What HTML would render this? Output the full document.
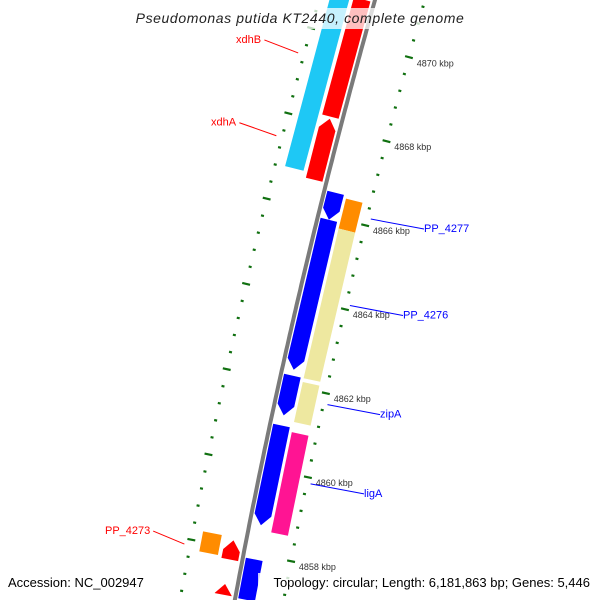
<!DOCTYPE html>
<html><head><meta charset="utf-8">
<style>
html,body{margin:0;padding:0;background:#fff;width:600px;height:600px;overflow:hidden;}
svg{display:block;font-family:"Liberation Sans",sans-serif;}
</style></head>
<body>
<svg id="map" width="600" height="600" viewBox="0 0 600 600" xmlns="http://www.w3.org/2000/svg">
<g id="features"></g>
<path id="backbone" fill="none" stroke="#7a7a7a" stroke-width="4"/>
<g id="ticks"></g>
<g id="labels"></g>
<rect x="120" y="8" width="360" height="21" fill="#fff" fill-opacity="0.75"/>
<text x="300" y="23" text-anchor="middle" font-size="14" font-style="italic" fill="#222" letter-spacing="0.6">Pseudomonas putida KT2440, complete genome</text>
<text x="8" y="587" font-size="13" fill="#000">Accession: NC_002947</text>
<rect x="258" y="573" width="334" height="18" fill="#fff" fill-opacity="0.8"/>
<text x="590" y="587" text-anchor="end" font-size="13" fill="#000">Topology: circular; Length: 6,181,863 bp; Genes: 5,446</text>
</svg>
<script>
// ---- data (kbp) ----
const featStart = [4870.99, 4870.99, 4868.17, 4870.99, 4866.56, 4865.92, 4862.23, 4861.05, 4857.88, 4866.49, 4865.78, 4862.14, 4860.95, 4858.29, 4858.22, 4857.19];
const featEnd   = [4870.79, 4868.22, 4866.73, 4866.87, 4865.92, 4862.37, 4861.29, 4858.69, 4856.92, 4865.78, 4862.23, 4861.19, 4858.57, 4857.82, 4857.77, 4856.94];
const featTrack = [-2, -1, -1, -2, 1, 1, 1, 1, 1, 2, 2, 2, 2, -2, -1, -1];
const featColor = ["#b8ac6e","#ff0000","#ff0000","#1ec8f5","#0000ff","#0000ff","#0000ff","#0000ff","#0000ff","#ff8c00","#eee8a0","#eee8a0","#ff1493","#ff8c00","#ff0000","#ff0000"];
const featArrow = [0, 0, 1, 0, 1, 1, 1, 1, 0, 0, 0, 0, 0, 0, 1, 1];
const tickLabels = [4870, 4868, 4866, 4864, 4862, 4860, 4858];
const labelNames = ["xdhB","xdhA","PP_4273","PP_4277","PP_4276","zipA","ligA"];
const labelKbp   = [4869.43, 4867.49, 4857.92, 4866.17, 4864.11, 4861.75, 4859.86];
const labelSide  = [-1, -1, -1, 1, 1, 1, 1];
const labelColor = ["#ff0000","#ff0000","#ff0000","#0000ff","#0000ff","#0000ff","#0000ff"];
const labelTextX = [236, 211, 105, 424, 403, 380, 364];

// ---- geometry ----
const NS = "http://www.w3.org/2000/svg";
const yOf = k => 44.5 + (4870 - k) * 42.3;
const bx = y => 375 - 0.281 * y + 7.9e-5 * y * y;
const slope = y => -0.281 + 2 * 7.9e-5 * y;
function pt(k, off){ const y = yOf(k); const s = slope(y); const n = Math.hypot(1, s); return [bx(y) + off / n, y - off * s / n]; }
const trackOff = {"-2":[-44,-25], "-1":[-21,-4], "1":[3,20], "2":[23,40]};

const fg = document.getElementById('features');
for (let i = 0; i < featStart.length; i++) {
  const [o1, o2] = trackOff[String(featTrack[i])];
  const a = featStart[i], b = featEnd[i];
  let pts;
  if (featArrow[i]) {
    const up = featTrack[i] < 0;
    const head = 0.24;
    let tip = up ? a : b, base = up ? a - head : b + head, tail = up ? b : a;
    const om = (o1 + o2) / 2;
    pts = [pt(tail, o1), pt(base, o1), pt(tip, om), pt(base, o2), pt(tail, o2)];
  } else {
    pts = [pt(a, o1), pt(a, o2), pt(b, o2), pt(b, o1)];
  }
  const p = document.createElementNS(NS, 'polygon');
  
  
  p.setAttribute('points', pts.map(q => q[0].toFixed(1) + ',' + q[1].toFixed(1)).join(' '));
  p.setAttribute('fill', featColor[i]);
  fg.appendChild(p);
}

// backbone
let d = '';
for (let y = -5; y <= 605; y += 5) d += (y === -5 ? 'M' : 'L') + bx(y).toFixed(1) + ',' + y;
document.getElementById('backbone').setAttribute('d', d);

// ticks
const tg = document.getElementById('ticks');
function dash(k, off, len){
  const a = pt(k, off - len / 2), b = pt(k, off + len / 2);
  const l = document.createElementNS(NS, 'line');
  
  
  l.setAttribute('x1', a[0]); l.setAttribute('y1', a[1]);
  l.setAttribute('x2', b[0]); l.setAttribute('y2', b[1]);
  l.setAttribute('stroke', '#107010'); l.setAttribute('stroke-width', '2.2');
  tg.appendChild(l);
}
for (let j = -5; j <= 40; j++) {
  const k = 4872 - j * 0.4;
  const major = j % 5 === 0;
  dash(k, 48, major ? 8 : 3);
  dash(k + 0.05, -54, major ? 8 : 3);
}
tickLabels.forEach(v => {
  const p = pt(v, 56);
  const t = document.createElementNS(NS, 'text');
  
  
  t.setAttribute('x', p[0].toFixed(1)); t.setAttribute('y', (p[1] + 7).toFixed(1));
  t.setAttribute('font-size', '9'); t.setAttribute('fill', '#333');
  t.textContent = v + ' kbp';
  tg.appendChild(t);
});

// labels
const lg = document.getElementById('labels');
for (let i = 0; i < labelNames.length; i++) {
  const side = labelSide[i];
  const a = pt(labelKbp[i], side < 0 ? -60 : 52);
  const ty = side < 0 ? a[1] - 10 : a[1] + 13;
  const tx = labelTextX[i];
  const l = document.createElementNS(NS, 'line');
  
  
  const endX = side < 0 ? tx + labelNames[i].length * 6.6 + 2 : tx;
  l.setAttribute('x1', a[0]); l.setAttribute('y1', a[1]);
  l.setAttribute('x2', endX); l.setAttribute('y2', ty - 3);
  l.setAttribute('stroke', labelColor[i]); l.setAttribute('stroke-width', '1');
  lg.appendChild(l);
  const t = document.createElementNS(NS, 'text');
  
  
  t.setAttribute('x', tx); t.setAttribute('y', ty);
  t.setAttribute('font-size', '11'); t.setAttribute('fill', labelColor[i]);
  t.textContent = labelNames[i];
  lg.appendChild(t);
}
</script>
</body></html>
